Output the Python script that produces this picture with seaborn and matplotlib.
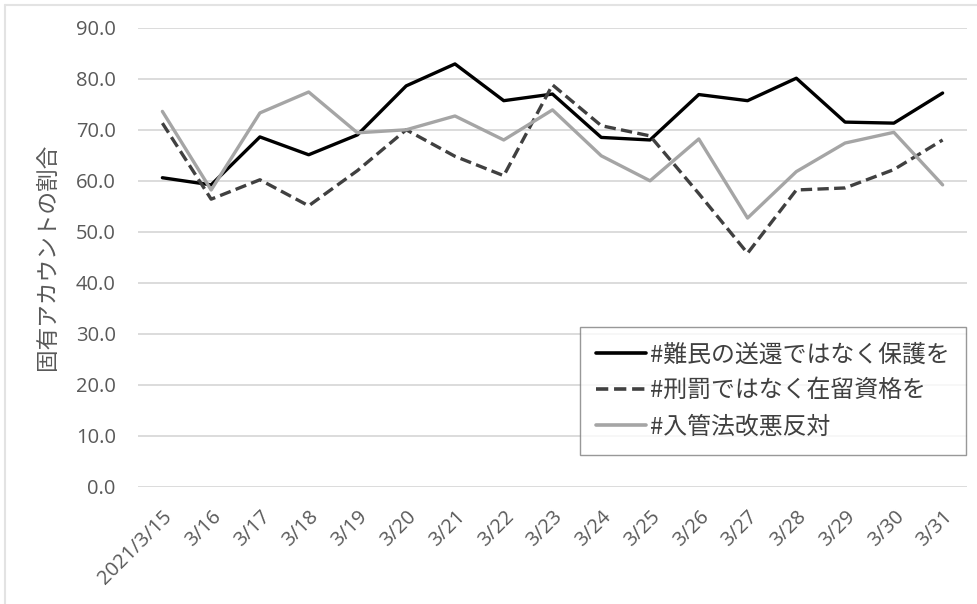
import matplotlib
matplotlib.use("Agg")
import matplotlib.pyplot as plt
from matplotlib.lines import Line2D
import seaborn as sns
import pandas as pd

# Daily share of unique accounts per hashtag (%)
dates = ["2021/3/15", "3/16", "3/17", "3/18", "3/19", "3/20", "3/21", "3/22", "3/23",
         "3/24", "3/25", "3/26", "3/27", "3/28", "3/29", "3/30", "3/31"]
refugee_protection = [60.6, 59.2, 68.6, 65.1, 69.0, 78.6, 82.9, 75.7, 77.0,
                      68.5, 68.0, 76.9, 75.7, 80.1, 71.5, 71.3, 77.2]
residence_status = [71.3, 56.4, 60.2, 55.1, 62.0, 70.0, 64.8, 61.0, 78.8,
                    70.8, 68.8, 57.5, 45.8, 58.2, 58.6, 62.2, 68.0]
oppose_revision = [73.6, 58.2, 73.3, 77.4, 69.4, 70.0, 72.7, 68.0, 73.9,
                   64.9, 60.0, 68.2, 52.7, 61.8, 67.4, 69.5, 59.2]
series_names = ["#難民の送還ではなく保護を", "#刑罰ではなく在留資格を", "#入管法改悪反対"]
y_ticks = [0, 10, 20, 30, 40, 50, 60, 70, 80, 90]
y_label = "固有アカウントの割合"

sns.set_theme(style="white")
plt.rcParams["font.family"] = ["Open Sans", "Noto Sans CJK JP", "DejaVu Sans"]
cjk = ["Noto Sans CJK JP", "DejaVu Sans"]

frames = []
for name, vals in zip(series_names, [refugee_protection, residence_status, oppose_revision]):
    frames.append(pd.DataFrame({"pos": range(len(dates)), "value": vals, "series": name}))
df = pd.concat(frames, ignore_index=True)

fig = plt.figure(figsize=(9.77, 6.04), dpi=100)
ax = fig.add_axes([138 / 977, 1 - 487 / 604, 829 / 977, (487 - 27.7) / 604])

palette = {series_names[0]: "#000000", series_names[1]: "#404040", series_names[2]: "#a5a5a5"}
dashes = {series_names[0]: "", series_names[1]: (3.4, 1.6), series_names[2]: ""}
sns.lineplot(data=df, x="pos", y="value", hue="series", style="series",
             palette=palette, dashes=dashes, linewidth=2.4, ax=ax, legend=False,
             sort=False)

ax.set_xlim(-0.5, len(dates) - 0.5)
ax.set_ylim(0, 90)
ax.set_yticks(y_ticks)
ax.set_yticklabels([f"{v:.1f}" for v in y_ticks], fontsize=14.5, color="#595959")
ax.set_xticks(range(len(dates)))
ax.set_xticklabels(dates, rotation=45, ha="right", rotation_mode="anchor",
                   fontsize=14.5, color="#595959")
ax.tick_params(axis="y", length=0, pad=16)
ax.tick_params(axis="x", length=0, pad=14)
ax.grid(axis="y", color="#d9d9d9", linewidth=1.3)
ax.set_axisbelow(True)
for s in ax.spines.values():
    s.set_visible(False)
ax.set_xlabel("")
ax.set_ylabel(y_label, family=cjk, fontsize=16.3, color="#595959", labelpad=12)

handles = [
    Line2D([], [], color="#000000", linewidth=2.6),
    Line2D([], [], color="#404040", linewidth=2.6, dashes=(3.4, 1.6)),
    Line2D([], [], color="#a5a5a5", linewidth=2.6),
]
leg = ax.legend(handles, series_names, loc="upper left",
                bbox_to_anchor=((580 - 138) / 829, (487 - 327) / 459.3),
                prop={"family": cjk, "size": 17.2},
                handlelength=2.1, handletextpad=0.15, labelspacing=0.55,
                borderpad=0.68, borderaxespad=0, frameon=True, fancybox=False)
leg.get_frame().set_edgecolor("#7f7f7f")
leg.get_frame().set_linewidth(1.0)
for t in leg.get_texts():
    t.set_color("#404040")

# Light outer chart border (top and left edges)
fig.add_artist(Line2D([5 / 977, 1], [1 - 5 / 604, 1 - 5 / 604], color="#e3e3e3",
                      linewidth=1.5, transform=fig.transFigure))
fig.add_artist(Line2D([5 / 977, 5 / 977], [0, 1 - 5 / 604], color="#e3e3e3",
                      linewidth=1.5, transform=fig.transFigure))

fig.savefig("out.png", dpi=100)
